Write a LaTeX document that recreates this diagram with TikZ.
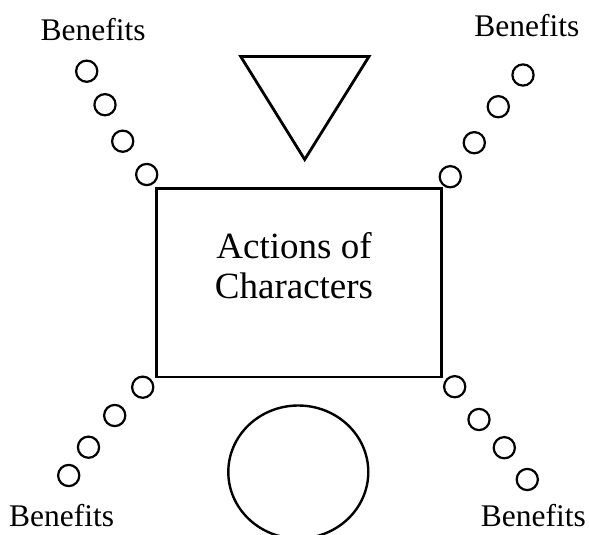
\documentclass[tikz,border=0pt]{standalone}
\usepackage{fontspec}
\setmainfont{Liberation Serif}
\usetikzlibrary{shapes.geometric}
\begin{document}
\begin{tikzpicture}[x=1pt,y=-1pt,
  dot/.style={draw=black,circle,line width=2.2pt,minimum size=21.2pt,inner sep=0pt},
  benefit/.style={font=\fontsize{31.5}{36}\selectfont,anchor=base,inner sep=0pt},
  maintext/.style={font=\fontsize{37}{40}\selectfont,anchor=base,inner sep=0pt}]
\useasboundingbox (0,0) rectangle (589,535);
% rectangle
\node[draw=black,line width=2.8pt,rectangle,minimum width=285pt,minimum height=188.5pt,inner sep=0pt] (act) at (299,282.75) {};
\node[maintext] (l1) at (294,258.3) {Actions of};
\node[maintext] (l2) at (294,298.3) {Characters};
% triangle
\coordinate (t1) at (240.7,56.5);
\coordinate (t2) at (369,56.5);
\coordinate (t3) at (304.7,159.5);
\draw[line width=2.8pt,line join=miter] (t1) -- (t2) -- (t3) -- cycle;
% ellipse
\node[draw=black,ellipse,line width=2.4pt,minimum width=140pt,minimum height=133pt,inner sep=0pt] (ell) at (298.3,472) {};
% top-left dots
\node[dot] (a1) at (86.7,71.2) {};
\node[dot] (a2) at (105,104.7) {};
\node[dot] (a3) at (122.7,141.2) {};
\node[dot] (a4) at (146.7,174.5) {};
% top-right dots
\node[dot] (b1) at (523,75) {};
\node[dot] (b2) at (498.3,106.7) {};
\node[dot] (b3) at (474.3,142.7) {};
\node[dot] (b4) at (450.3,176.7) {};
% bottom-left dots
\node[dot] (c1) at (142.7,387.2) {};
\node[dot] (c2) at (114.7,415.5) {};
\node[dot] (c3) at (88.5,447.2) {};
\node[dot] (c4) at (68.7,475.5) {};
% bottom-right dots
\node[dot] (d1) at (454.7,386.7) {};
\node[dot] (d2) at (479,419.5) {};
\node[dot] (d3) at (504.3,447.7) {};
\node[dot] (d4) at (527.3,479.5) {};
% labels
\node[benefit] (btl) at (93.2,40.5) {Benefits};
\node[benefit] (btr) at (526.8,36.7) {Benefits};
\node[benefit] (bbl) at (61.7,526.7) {Benefits};
\node[benefit] (bbr) at (533.3,526.7) {Benefits};
\end{tikzpicture}
\end{document}
